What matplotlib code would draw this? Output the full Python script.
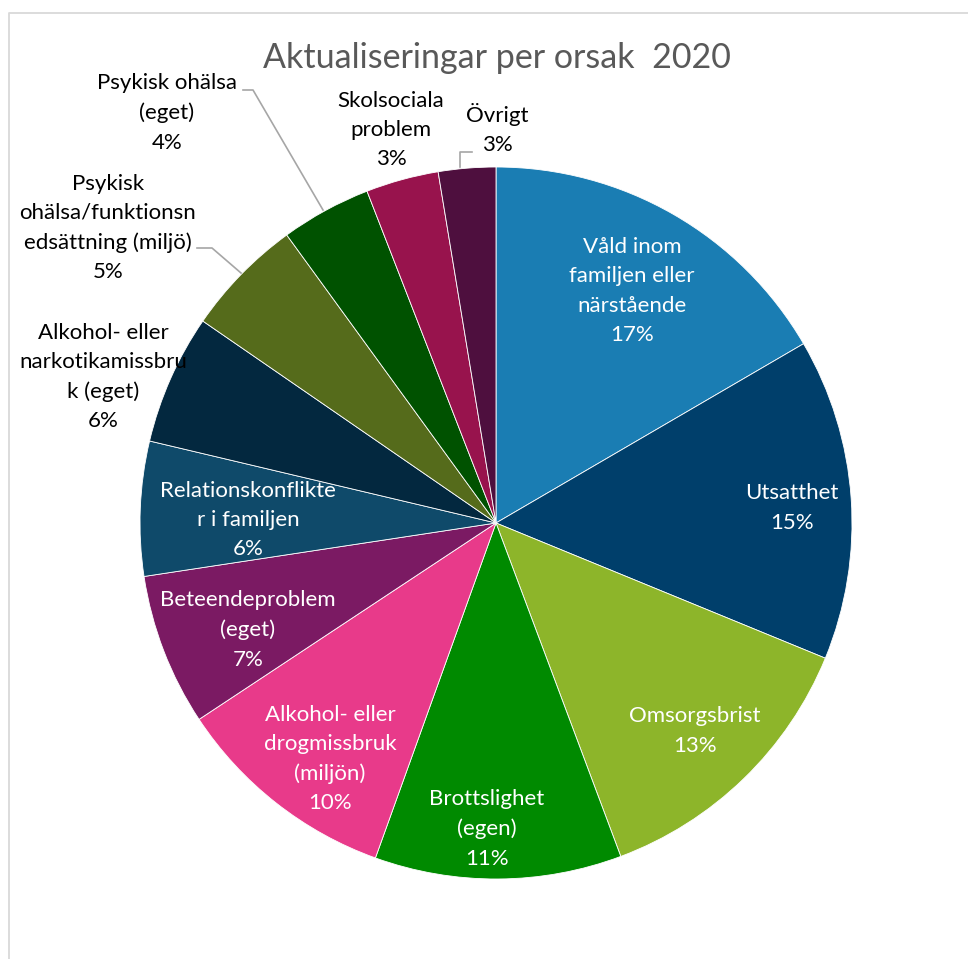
import matplotlib
matplotlib.use('Agg')
import matplotlib.pyplot as plt

plt.rcParams['font.family'] = ['Lato', 'DejaVu Sans']

# data (share of actualisations per reason, %)
categories = [
    'Våld inom\nfamiljen eller\nnärstående',
    'Utsatthet',
    'Omsorgsbrist',
    'Brottslighet\n(egen)',
    'Alkohol- eller\ndrogmissbruk\n(miljön)',
    'Beteendeproblem\n(eget)',
    'Relationskonflikte\nr i familjen',
    'Alkohol- eller\nnarkotikamissbru\nk (eget)',
    'Psykisk\nohälsa/funktionsn\nedsättning (miljö)',
    'Psykisk ohälsa\n(eget)',
    'Skolsociala\nproblem',
    'Övrigt',
]
values = [16.6, 14.6, 13.1, 11.2, 10.2, 6.9, 6.1, 5.9, 5.4, 4.1, 3.3, 2.6]
colors = ['#1a7db3', '#003f6b', '#8db52a', '#008a00', '#e83a8a', '#7b1a63',
          '#0f4a6a', '#03283f', '#556b1b', '#005200', '#98134d', '#4e0f3e']

# layout (pixel coords, y from top)
W, H = 968, 959
CX, CY, R = 496, 523, 356
label_pos = [(632, 291), (792, 508), (695, 731), (487, 829), (330, 759), (248, 630),
             (248, 520), (103, 377), (108, 228), (167, 113), (391, 130), (497, 129)]
inside = [True] * 7 + [False] * 5
# leader lines: label side -> corner -> wedge edge
leaders = {
    8: [(197, 248), (212, 248), (241, 273)],
    9: [(243, 90), (253, 90), (323, 210)],
    11: [(472, 152), (460, 152), (460, 167)],
}

fig = plt.figure(figsize=(W / 100, H / 100), dpi=100)
ax = fig.add_axes([0, 0, 1, 1])

# chart frame
ax.plot([9, 9, W + 5], [-5, H - 13, H - 13], color='#d9d9d9', lw=1.3)

ax.pie(values, colors=colors, startangle=90, counterclock=False,
       center=(CX, H - CY), radius=R, frame=True,
       wedgeprops=dict(edgecolor='white', linewidth=0.6))
ax.set_xlim(0, W)
ax.set_ylim(0, H)
ax.set_aspect('equal')
ax.axis('off')

for i, (lab, v) in enumerate(zip(categories, values)):
    x, y = label_pos[i]
    ax.text(x, H - y, f'{lab}\n{int(v + 0.5)}%', ha='center', va='center',
            fontsize=16, linespacing=1.58,
            color='white' if inside[i] else 'black')

for pts in leaders.values():
    ax.plot([p[0] for p in pts], [H - p[1] for p in pts], color='#a6a6a6', lw=1.2)

ax.text(497, H - 58, 'Aktualiseringar per orsak  2020', ha='center', va='center',
        fontsize=24.5, color='#595959')

fig.savefig('out.png', dpi=100)
